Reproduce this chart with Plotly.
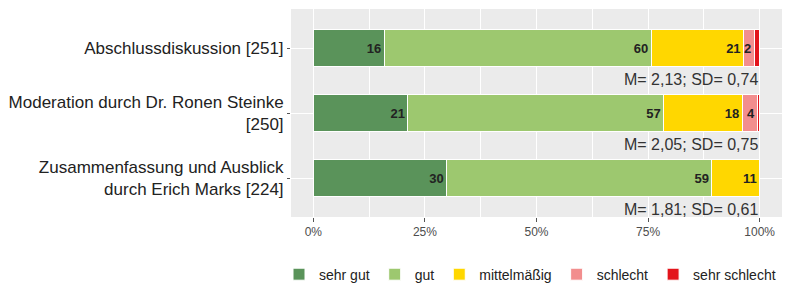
import plotly.graph_objects as go

categories = [
    "Abschlussdiskussion [251]",
    "Moderation durch Dr. Ronen Steinke<br>[250]",
    "Zusammenfassung und Ausblick<br>durch Erich Marks [224]",
]
levels = ["sehr gut", "gut", "mittelmäßig", "schlecht", "sehr schlecht"]
colors = ["#5a935a", "#9dc86f", "#ffd700", "#f28e8e", "#e3141b"]

sehr_gut = [15.9, 21.2, 29.9]
gut = [59.8, 57.3, 59.4]
mittel = [20.7, 17.6, 10.7]
schlecht = [2.4, 3.5, 0.0]
sehr_schlecht = [1.2, 0.4, 0.0]
series = [sehr_gut, gut, mittel, schlecht, sehr_schlecht]

stats = ["M= 2,13; SD= 0,74", "M= 2,05; SD= 0,75", "M= 1,81; SD= 0,61"]

W, H = 788, 284
PANEL_L, R = 291, 6

fig = go.Figure()
for name, vals, col in zip(levels, series, colors):
    texts = [str(round(v)) if v >= 2 else "" for v in vals]
    fig.add_trace(go.Bar(
        y=categories, x=vals, name=name, orientation="h",
        marker=dict(color=col, line=dict(color="white", width=1)),
        text=texts, textposition="inside", insidetextanchor="end",
        textangle=0, constraintext="none",
        textfont=dict(family="Liberation Sans", size=13, color="#222222", weight="bold"),
        width=0.58, hoverinfo="skip",
    ))

for cat, s in zip(categories, stats):
    fig.add_annotation(x=100, y=cat, text=s, showarrow=False, xanchor="right",
                       yanchor="middle", yshift=-31, xshift=0,
                       font=dict(family="Liberation Sans", size=16, color="#333333"))

fig.update_layout(
    barmode="stack",
    width=W, height=H,
    margin=dict(l=0, r=R, t=9, b=67, autoexpand=False),
    paper_bgcolor="white", plot_bgcolor="rgba(0,0,0,0)",
    font=dict(family="Liberation Sans"),
    legend=dict(orientation="h", x=530 / (W - R), xanchor="center",
                y=-0.2, yanchor="top", bgcolor="rgba(0,0,0,0)",
                font=dict(size=14, color="#222222"), traceorder="normal",
                itemwidth=30, itemclick=False, itemdoubleclick=False, tracegroupgap=0),
    showlegend=True,
    shapes=[dict(type="rect", xref="x domain", yref="y domain", x0=0, x1=1, y0=0, y1=1,
                 fillcolor="#ebebeb", line=dict(width=0), layer="below")],
)
fig.update_xaxes(range=[-5, 105], tickvals=[0, 25, 50, 75, 100],
                 ticktext=["0%", "25%", "50%", "75%", "100%"],
                 domain=[PANEL_L / (W - R), 1],
                 showgrid=True, gridcolor="white", gridwidth=1.2,
                 ticks="outside", ticklen=4, tickcolor="#555555",
                 tickfont=dict(size=12, color="#4d4d4d"), zeroline=False,
                 automargin=False,
                 minor=dict(tickvals=[12.5, 37.5, 62.5, 87.5], showgrid=True,
                            gridcolor="white", gridwidth=0.6, ticks=""))
fig.update_yaxes(range=[2.6, -0.6], showgrid=True, gridcolor="white", gridwidth=1.2,
                 ticks="outside", ticklen=3, tickcolor="#555555", automargin=False,
                 tickfont=dict(size=17, color="#222222"), zeroline=False)

fig.write_html("out.html", post_script="document.body.style.margin='0';",
               config={"displayModeBar": False})
